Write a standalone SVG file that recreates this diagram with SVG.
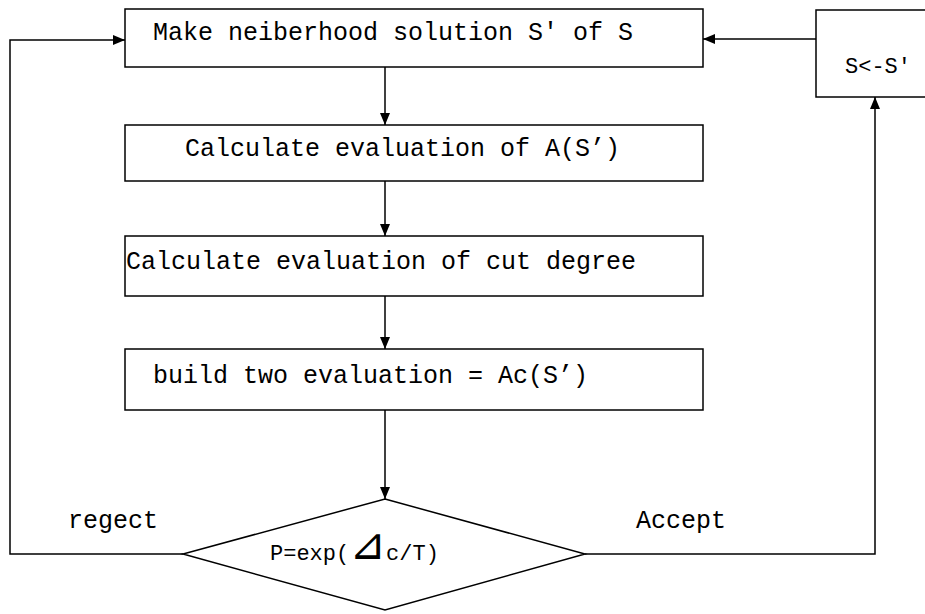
<svg xmlns="http://www.w3.org/2000/svg" width="925" height="614" viewBox="0 0 925 614">
<defs>
<style>
.box{fill:#fff;stroke:#000;stroke-width:1.5}
.ln{fill:none;stroke:#000;stroke-width:1.5}
.t{font-family:"Liberation Mono","Courier New",monospace;font-size:25px;fill:#000}
.s{font-family:"Liberation Mono","Courier New",monospace;font-size:22px;fill:#000}
</style>
<marker id="ah" viewBox="0 0 12 10" refX="12" refY="5" markerWidth="12" markerHeight="10" markerUnits="userSpaceOnUse" orient="auto">
<path d="M0,0 L12,5 L0,10 z" fill="#000"/>
</marker>
</defs>
<rect width="925" height="614" fill="#fff"/>
<g id="connectors">
<path class="ln" d="M385,67 V125" marker-end="url(#ah)"/>
<path class="ln" d="M385,181 V236" marker-end="url(#ah)"/>
<path class="ln" d="M385,296 V349" marker-end="url(#ah)"/>
<path class="ln" d="M385,410 V499" marker-end="url(#ah)"/>
<path class="ln" d="M183,554 H10 V40 H125" marker-end="url(#ah)"/>
<path class="ln" d="M585,554 H875 V97" marker-end="url(#ah)"/>
<path class="ln" d="M816,39 H703" marker-end="url(#ah)"/>
<text class="t" x="68" y="528">regect</text>
<text class="t" x="636" y="528">Accept</text>
</g>
<g id="n1">
<rect class="box" x="125" y="9" width="578" height="58"/>
<text class="t" x="153" y="40">Make neiberhood solution S′ of S</text>
</g>
<g id="n2">
<rect class="box" x="125" y="125" width="578" height="56"/>
<text class="t" x="185" y="156">Calculate evaluation of A(S’)</text>
</g>
<g id="n3">
<rect class="box" x="125" y="236" width="578" height="60"/>
<text class="t" x="126" y="269">Calculate evaluation of cut degree</text>
</g>
<g id="n4">
<rect class="box" x="125" y="349" width="578" height="61"/>
<text class="t" x="153" y="383">build two evaluation = Ac(S’)</text>
</g>
<g id="n5">
<path class="box" d="M385,499 L585,554 L385,610 L183,554 z"/>
<text class="s" x="270" y="560">P=exp(<tspan font-family="DejaVu Sans,sans-serif" font-size="44px" dy="-1">⊿</tspan><tspan dy="1">c/T)</tspan></text>
</g>
<g id="n6">
<rect class="box" x="816" y="10" width="120" height="87"/>
<text class="s" x="845" y="73">S&lt;-S′</text>
</g>
</svg>
